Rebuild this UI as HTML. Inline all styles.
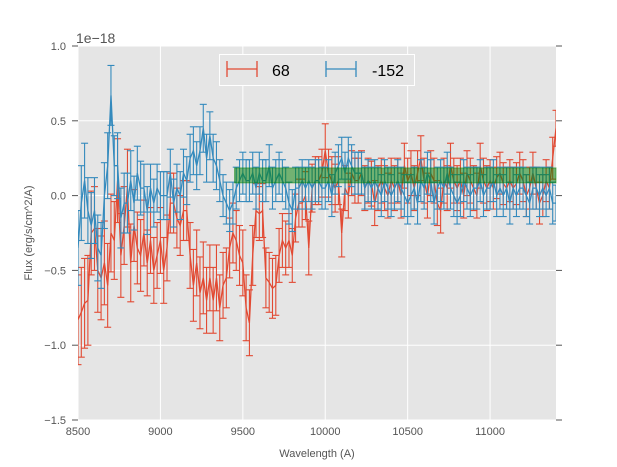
<!DOCTYPE html>
<html><head><meta charset="utf-8"><style>
html,body{margin:0;padding:0;background:#fff;}
svg{display:block;font-family:"Liberation Sans",sans-serif;}
</style></head><body>
<svg id="chart" width="617" height="467" viewBox="0 0 617 467">
</svg>
<script>
const wlStart = 8500, wlStep = 20;
const seriesNames = ["68", "-152"];
const red = [-0.83,-0.78,-0.72,-0.70,-0.25,-0.22,-0.50,-0.55,-0.45,-0.60,-0.25,-0.30,0.10,-0.40,-0.20,0.05,-0.45,-0.20,-0.35,-0.40,-0.25,-0.45,-0.30,-0.50,-0.40,-0.30,-0.50,-0.35,-0.05,-0.05,-0.15,-0.20,-0.10,-0.10,-0.40,-0.60,-0.45,-0.65,-0.55,-0.70,-0.55,-0.70,-0.55,-0.75,-0.60,-0.55,-0.35,-0.25,-0.30,-0.40,-0.45,-0.75,-0.85,-0.40,-0.10,-0.12,-0.10,-0.55,-0.58,-0.62,-0.60,-0.40,-0.30,-0.35,-0.30,-0.40,-0.15,-0.05,-0.05,0.00,-0.35,0.05,0.10,0.10,0.15,0.30,0.15,0.10,0.05,0.10,-0.25,0.05,0.00,0.15,0.10,0.10,0.15,0.05,0.10,0.08,-0.05,0.05,0.10,0.05,0.00,0.10,0.05,0.10,0.00,0.20,0.10,0.15,0.05,0.15,0.25,0.10,0.00,0.15,0.10,-0.05,-0.10,0.10,0.05,0.20,0.10,0.05,0.10,0.00,0.15,0.10,0.05,0.00,0.20,0.10,0.05,0.10,0.05,0.12,0.15,0.08,0.05,0.10,0.05,0.08,0.15,0.10,0.00,0.05,0.15,0.05,-0.05,0.00,0.10,0.05,0.25,0.45];
const redErr = [0.30,0.30,0.30,0.30,0.28,0.28,0.28,0.28,0.28,0.28,0.26,0.26,0.28,0.28,0.26,0.26,0.26,0.24,0.24,0.24,0.22,0.22,0.22,0.22,0.22,0.22,0.22,0.22,0.20,0.20,0.20,0.20,0.20,0.20,0.22,0.24,0.22,0.24,0.24,0.22,0.22,0.22,0.22,0.22,0.22,0.20,0.20,0.20,0.20,0.20,0.22,0.22,0.22,0.20,0.18,0.18,0.18,0.20,0.20,0.20,0.20,0.18,0.18,0.18,0.18,0.18,0.16,0.16,0.16,0.16,0.18,0.16,0.16,0.16,0.16,0.18,0.16,0.16,0.16,0.16,0.16,0.15,0.15,0.15,0.15,0.15,0.15,0.15,0.15,0.15,0.15,0.15,0.15,0.15,0.15,0.15,0.15,0.15,0.15,0.15,0.15,0.15,0.15,0.15,0.15,0.15,0.15,0.15,0.15,0.15,0.15,0.15,0.15,0.15,0.15,0.15,0.15,0.15,0.15,0.15,0.15,0.15,0.15,0.15,0.15,0.14,0.14,0.14,0.14,0.14,0.14,0.14,0.14,0.14,0.14,0.14,0.14,0.14,0.14,0.14,0.14,0.14,0.14,0.14,0.14,0.12];
const blue = [-0.35,-0.05,0.10,-0.10,-0.20,-0.10,-0.35,-0.40,0.00,0.20,0.67,0.20,0.20,-0.15,-0.05,-0.05,0.10,-0.05,0.15,0.05,0.05,-0.10,0.05,-0.05,0.05,0.00,0.00,0.00,0.15,-0.05,0.05,0.00,0.15,0.10,0.25,0.30,0.20,0.30,0.45,0.25,0.40,0.25,0.20,0.10,0.00,-0.05,-0.10,-0.05,0.05,0.10,0.15,0.10,0.10,0.15,0.05,0.15,0.10,0.10,0.20,0.05,0.10,0.15,0.10,0.05,-0.05,-0.10,0.05,0.05,0.10,0.05,0.10,0.05,0.10,0.10,0.05,0.05,0.10,0.00,0.15,0.20,0.25,0.15,0.25,0.20,0.15,0.15,0.15,0.05,0.10,0.05,0.10,0.05,0.00,0.10,0.05,0.00,0.05,0.10,0.05,0.00,-0.05,0.00,0.05,-0.05,0.10,0.05,0.15,0.10,-0.05,0.05,0.10,0.05,0.15,0.05,0.00,-0.05,0.00,0.10,0.05,0.00,0.05,0.05,0.10,0.00,0.05,0.05,0.10,0.00,0.05,0.00,0.05,-0.05,0.05,0.00,0.05,0.05,0.00,-0.05,0.05,0.05,0.00,0.05,0.00,0.05,-0.05,-0.05];
const blueErr = [0.25,0.25,0.25,0.22,0.22,0.22,0.22,0.22,0.22,0.22,0.20,0.20,0.22,0.20,0.20,0.20,0.20,0.18,0.18,0.18,0.16,0.16,0.16,0.16,0.16,0.16,0.16,0.16,0.16,0.16,0.16,0.16,0.16,0.16,0.16,0.16,0.16,0.16,0.16,0.16,0.16,0.16,0.16,0.14,0.14,0.14,0.14,0.14,0.14,0.14,0.14,0.14,0.14,0.14,0.14,0.14,0.14,0.14,0.14,0.14,0.14,0.14,0.14,0.14,0.14,0.14,0.14,0.14,0.14,0.14,0.14,0.14,0.14,0.14,0.14,0.14,0.14,0.14,0.14,0.14,0.14,0.14,0.14,0.14,0.14,0.14,0.14,0.14,0.14,0.14,0.14,0.14,0.14,0.14,0.14,0.14,0.14,0.14,0.14,0.14,0.14,0.14,0.14,0.14,0.14,0.14,0.14,0.14,0.14,0.14,0.14,0.14,0.14,0.14,0.14,0.14,0.14,0.14,0.14,0.14,0.14,0.14,0.14,0.14,0.14,0.14,0.14,0.14,0.14,0.14,0.14,0.14,0.14,0.14,0.14,0.14,0.14,0.14,0.14,0.14,0.14,0.14,0.14,0.14,0.14,0.12];
const band = {x0: 9450, x1: 11400, y0: 0.085, y1: 0.185};
const xTicks = [8500, 9000, 9500, 10000, 10500, 11000];
const xTickLabels = ["8500","9000","9500","10000","10500","11000"];
const yTicks = [1.0, 0.5, 0.0, -0.5, -1.0, -1.5];
const yTickLabels = ["1.0","0.5","0.0","\u22120.5","\u22121.0","\u22121.5"];

const L=78,R=556,T=46,B=420, X0=8500,X1=11400,Y0=-1.5,Y1=1.0;
const sx=v=>L+(v-X0)/(X1-X0)*(R-L);
const sy=v=>B-(v-Y0)/(Y1-Y0)*(B-T);
const svg=document.getElementById('chart');
const NS='http://www.w3.org/2000/svg';
function mk(tag,attrs,parent){const e=document.createElementNS(NS,tag);for(const k in attrs)e.setAttribute(k,attrs[k]);(parent||svg).appendChild(e);return e;}

const bg=mk('rect',{x:L,y:T,width:R-L,height:B-T,fill:'#e5e5e5'});


const grid=mk('g',{stroke:'#fff','stroke-width':1});


xTicks.forEach((t,i)=>{
  mk('line',{x1:sx(t),x2:sx(t),y1:T,y2:B},grid);
  const tx=mk('text',{x:sx(t),y:B+15,'text-anchor':'middle','font-size':11,fill:'#555'});
  tx.textContent=xTickLabels[i];
  
  
});
yTicks.forEach((t,i)=>{
  mk('line',{x1:L,x2:R,y1:sy(t),y2:sy(t)},grid);
  const tx=mk('text',{x:66,y:sy(t)+4,'text-anchor':'end','font-size':11,fill:'#555'});
  tx.textContent=yTickLabels[i];
  
  
  mk('line',{x1:R,x2:R+6,y1:sy(t),y2:sy(t),stroke:'#555'});
  mk('line',{x1:L,x2:L-6,y1:sy(t),y2:sy(t),stroke:'#555'});
});

const clip=mk('clipPath',{id:'pc'});mk('rect',{x:L,y:T,width:R-L,height:B-T},clip);
function series(vals,errs,color,name){
  const g=mk('g',{'clip-path':'url(#pc)',stroke:color,fill:'none','stroke-width':1.3});
  
  
  let d='';
  vals.forEach((v,i)=>{
    const x=sx(wlStart+wlStep*i), e=errs[i]||0.15;
    const a=sy(v+e), b=sy(v-e);
    mk('line',{x1:x,x2:x,y1:a,y2:b,'stroke-width':1.1},g);
    mk('line',{x1:x-3.5,x2:x+3.5,y1:a,y2:a,'stroke-width':1.1},g);
    mk('line',{x1:x-3.5,x2:x+3.5,y1:b,y2:b,'stroke-width':1.1},g);
    d+=(i?'L':'M')+x.toFixed(1)+','+sy(v).toFixed(1);
  });
  const p=mk('path',{d:d},g);
  
  
}
series(red,redErr,'#E24A33','series-68');
series(blue,blueErr,'#348ABD','series-152');
const br=mk('rect',{x:sx(band.x0),y:sy(band.y1),width:sx(band.x1)-sx(band.x0),height:sy(band.y0)-sy(band.y1),fill:'green','fill-opacity':0.5,stroke:'green','stroke-opacity':0.5});



// legend
const lg=mk('g',{});


mk('rect',{x:219.5,y:54.5,width:195,height:31,fill:'#e5e5e5',stroke:'#fff','stroke-width':1},lg);
[[227,'#E24A33',272,seriesNames[0]],[326,'#348ABD',372,seriesNames[1]]].forEach(([x,c,tx,lab])=>{
  const e=mk('g',{stroke:c,'stroke-width':1.3},lg);
  
  
  mk('line',{x1:x,x2:x+30,y1:69,y2:69},e);
  mk('line',{x1:x,x2:x,y1:61,y2:77},e);
  mk('line',{x1:x+30,x2:x+30,y1:61,y2:77},e);
  const t=mk('text',{x:tx,y:76,'font-size':16,fill:'#000',stroke:'none'},lg);
  t.textContent=lab;
  
  
});
const off=mk('text',{x:76,y:43,'font-size':14,fill:'#555'});off.textContent='1e\u221218';


const xl=mk('text',{x:(L+R)/2,y:457,'text-anchor':'middle','font-size':11,fill:'#555'});xl.textContent='Wavelength (A)';


const yl=mk('text',{x:0,y:0,'text-anchor':'middle','font-size':11,fill:'#555',transform:'translate(32,233) rotate(-90)'});yl.textContent='Flux (erg/s/cm^2/A)';


</script>
</body></html>
